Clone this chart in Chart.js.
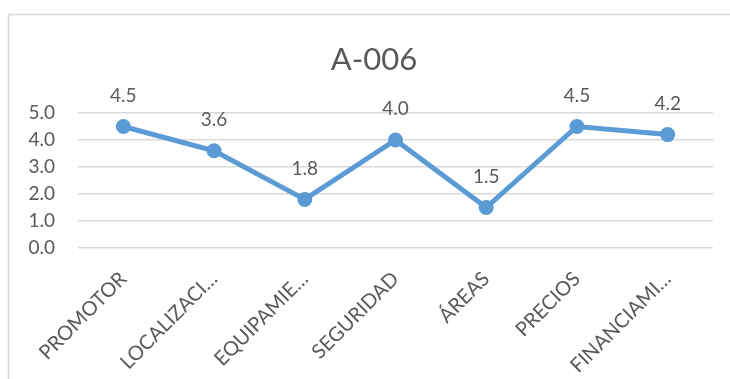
<!DOCTYPE html>
<html>
<head>
<meta charset="utf-8">
<script src="https://cdn.jsdelivr.net/npm/chart.js@4/dist/chart.umd.min.js"></script>
<style>
  html, body { margin: 0; padding: 0; background: #ffffff; }
  #wrap { position: relative; width: 730px; height: 379px; }
</style>
</head>
<body>
<div id="wrap"><canvas id="c" width="730" height="379"></canvas></div>
<script>
// Survey scores for development A-006
const categories = ['PROMOTOR', 'LOCALIZACI…', 'EQUIPAMIE…', 'SEGURIDAD', 'ÁREAS', 'PRECIOS', 'FINANCIAMI…'];
const scores = [4.5, 3.6, 1.8, 4.0, 1.5, 4.5, 4.2];
const yTicks = [0, 1, 2, 3, 4, 5];
const chartTitle = 'A-006';

const TEXT = '#595959';
const BLUE = '#5B9BD5';
const GRID = '#D9D9D9';
const FONT = 'Lato, "Open Sans", sans-serif';
const FRAME = { left: 8, top: 14, right: 740 };

// Frame around the chart, with the title centred in it
const framePlugin = {
  id: 'frame',
  beforeDraw(chart) {
    const ctx = chart.ctx;
    ctx.save();
    ctx.fillStyle = '#ffffff';
    ctx.fillRect(0, 0, chart.width, chart.height);
    ctx.strokeStyle = GRID;
    ctx.lineWidth = 1.5;
    ctx.strokeRect(FRAME.left + 0.5, FRAME.top + 0.5, FRAME.right - FRAME.left, chart.height + 10);
    ctx.font = '31px ' + FONT;
    ctx.fillStyle = TEXT;
    ctx.textAlign = 'center';
    ctx.textBaseline = 'middle';
    ctx.fillText(chartTitle, (FRAME.left + FRAME.right) / 2, 60);
    ctx.restore();
  }
};

// Value labels above each point
const valueLabels = {
  id: 'valueLabels',
  afterDatasetsDraw(chart) {
    const ctx = chart.ctx;
    const meta = chart.getDatasetMeta(0);
    ctx.save();
    ctx.font = '19px ' + FONT;
    ctx.fillStyle = TEXT;
    ctx.textAlign = 'center';
    ctx.textBaseline = 'middle';
    meta.data.forEach((pt, i) => {
      ctx.fillText(scores[i].toFixed(1), pt.x, pt.y - 31);
    });
    ctx.restore();
  }
};

new Chart(document.getElementById('c'), {
  type: 'line',
  data: {
    labels: categories,
    datasets: [{
      data: scores,
      borderColor: BLUE,
      backgroundColor: BLUE,
      borderWidth: 5,
      pointRadius: 7.5,
      pointHoverRadius: 7.5,
      pointBackgroundColor: BLUE,
      pointBorderWidth: 0,
      tension: 0,
      clip: false
    }]
  },
  options: {
    responsive: false,
    animation: false,
    devicePixelRatio: 1,
    layout: { padding: { left: 0, right: 17, top: 113, bottom: 0 } },
    plugins: {
      legend: { display: false },
      tooltip: { enabled: false },
      title: { display: false }
    },
    scales: {
      x: {
        offset: true,
        grid: { display: false, drawTicks: false },
        border: { display: false },
        ticks: {
          color: TEXT,
          font: { family: FONT, size: 20 },
          minRotation: 45,
          maxRotation: 45,
          autoSkip: false,
          padding: 19
        },
        afterFit(scale) { scale.height = 131; }
      },
      y: {
        min: 0,
        max: 5,
        grid: { color: GRID, lineWidth: 1.5, drawTicks: false },
        border: { display: false },
        afterBuildTicks(scale) { scale.ticks = yTicks.map(v => ({ value: v })); },
        ticks: {
          color: TEXT,
          font: { family: FONT, size: 19 },
          padding: 23,
          callback: v => Number(v).toFixed(1)
        },
        afterFit(scale) { scale.width = 78; }
      }
    }
  },
  plugins: [framePlugin, valueLabels]
});
</script>
</body>
</html>
